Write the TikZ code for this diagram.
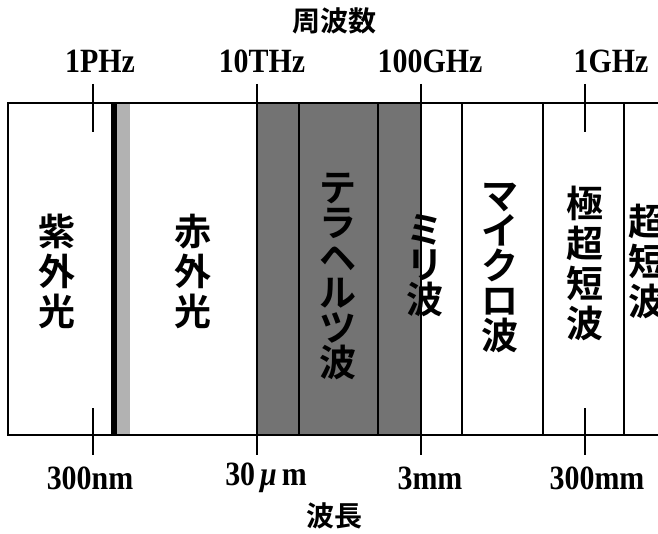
\documentclass[tikz,border=0pt]{standalone}
\usepackage{fontspec}
\usepackage{graphicx}
\setmainfont{Liberation Serif}
\newfontfamily\jp{Noto Sans CJK JP}[BoldFont={Noto Sans CJK JP Bold}]
\newcommand\nmlab[1]{\scalebox{0.88}[1]{#1}}
\begin{document}
\begin{tikzpicture}[x=1pt,y=-1pt,
  frame/.style={line width=1.8pt},
  divline/.style={line width=1.2pt},
  tick/.style={line width=1.4pt},
  vlab/.style={align=center,inner sep=0pt,font=\jp\bfseries\fontsize{37}{40}\selectfont},
  vkana/.style={align=center,inner sep=0pt,font=\jp\bfseries\fontsize{37}{35}\selectfont},
  num/.style={inner sep=0pt,font=\bfseries\fontsize{34}{34}\selectfont},
  head/.style={inner sep=0pt,font=\jp\bfseries\fontsize{28}{28}\selectfont}]
\useasboundingbox (0,0) rectangle (658,534);
% fills
\fill[black!55] (257,103) rectangle (421,435);
\fill[black] (111,103) rectangle (117,435);
\fill[black!30] (117,103) rectangle (130,435);
% frame
\draw[frame] (662,103) -- (8,103) -- (8,435) -- (662,435);
% dividers
\foreach \x in {257,299,378,421,462,543,624}
  \draw[divline] (\x,103) -- (\x,435);
% ticks
\foreach \x in {93,257,421,585}{
  \draw[tick] (\x,84) -- (\x,132);
  \draw[tick] (\x,408) -- (\x,455);
}
% headings
\node[head] (freq) at (334,21) {周波数};
\node[head] (wl) at (334,516) {波長};
% frequency labels
\node[num] (f1) at (100,61) {\nmlab{1PHz}};
\node[num] (f2) at (262,61) {\nmlab{10THz}};
\node[num] (f3) at (430,61) {\nmlab{100GHz}};
\node[num] (f4) at (611,61) {\nmlab{1GHz}};
% wavelength labels
\node[num] (w1) at (90,478) {\nmlab{300nm}};
\node[num] (w2) at (266,478) {\nmlab{30\,{\itshape μ}\,m}};
\node[num] (w3) at (430,478) {\nmlab{3mm}};
\node[num] (w4) at (597,478) {\nmlab{300mm}};
% band labels
\node[vlab] (uv) at (57,271) {紫\\外\\光};
\node[vlab] (ir) at (193,271) {赤\\外\\光};
\node[vkana] (thz) at (338,276) {テ\\ラ\\ヘ\\ル\\ツ\\波};
\node[vkana] (mm) at (425,266) {ミ\\リ\\波};
\node[vkana] (mw) at (500,268) {マ\\イ\\ク\\ロ\\波};
\node[vlab] (uhf) at (585,263) {極\\超\\短\\波};
\node[vlab] (vhf) at (647,261) {超\\短\\波};
\end{tikzpicture}
\end{document}
